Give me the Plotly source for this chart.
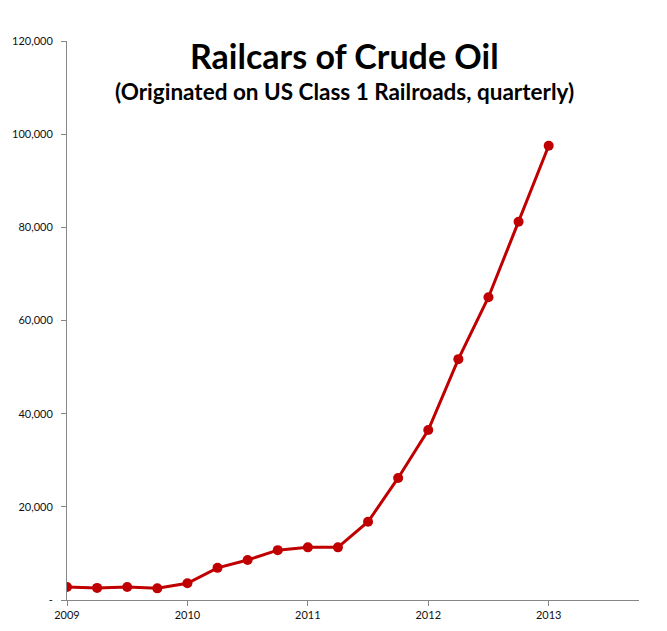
import plotly.graph_objects as go

# quarterly railcar originations of crude oil, 2009 Q1 .. 2013 Q1
quarters = [2009 + i * 0.25 for i in range(17)]
railcars = [
    2800, 2600, 2800, 2500, 3600, 6900, 8600, 10700, 11300,
    11300, 16800, 26200, 36500, 51700, 65000, 81200, 97500,
]

year_ticks = [2009, 2010, 2011, 2012, 2013]
y_ticks = [0, 20000, 40000, 60000, 80000, 100000, 120000]
y_labels = ["-", "20,000", "40,000", "60,000", "80,000", "100,000", "120,000"]

RED = "#C00000"
AXIS = "#868686"
FONT = "Lato, 'Open Sans', sans-serif"

# plot area in page pixels (page has an 8px body margin)
LEFT, RIGHT, TOP, BOTTOM = 67, 639, 41, 600
plot_w = RIGHT - LEFT
plot_h = BOTTOM - TOP

fig = go.Figure()
fig.add_trace(
    go.Scatter(
        x=quarters,
        y=railcars,
        mode="lines+markers",
        line={"color": RED, "width": 3},
        marker={"color": RED, "size": 10},
        showlegend=False,
    )
)

axis_style = {
    "showgrid": False,
    "zeroline": False,
    "showline": True,
    "linecolor": AXIS,
    "linewidth": 1,
    "ticks": "outside",
    "ticklen": 5,
    "tickcolor": AXIS,
    "automargin": False,
}

fig.update_layout(
    width=667,
    height=631,
    margin={"l": LEFT - 8, "r": 667 + 8 - RIGHT, "t": TOP - 8, "b": 631 + 8 - BOTTOM},
    paper_bgcolor="white",
    plot_bgcolor="white",
    font={"family": FONT, "size": 11, "color": "#111111"},
    xaxis={
        "range": [2009, 2013.75],
        "tickvals": year_ticks,
        "ticktext": [str(y) for y in year_ticks],
        **axis_style,
    },
    yaxis={
        "range": [0, 120000],
        "tickvals": y_ticks,
        "ticktext": y_labels,
        "ticklabelstandoff": 6,
        **axis_style,
    },
    annotations=[
        {
            "text": "<b>Railcars of Crude Oil</b>",
            "x": (344 - LEFT) / plot_w, "y": (BOTTOM - 55) / plot_h,
            "xref": "paper", "yref": "paper",
            "xanchor": "center", "yanchor": "middle",
            "showarrow": False,
            "font": {"family": FONT, "size": 34, "color": "black"},
        },
        {
            "text": "<b>(Originated on US Class 1 Railroads, quarterly)</b>",
            "x": (344 - LEFT) / plot_w, "y": (BOTTOM - 91) / plot_h,
            "xref": "paper", "yref": "paper",
            "xanchor": "center", "yanchor": "middle",
            "showarrow": False,
            "font": {"family": FONT, "size": 22.5, "color": "black"},
        },
    ],
)

fig.write_html("out.html")
